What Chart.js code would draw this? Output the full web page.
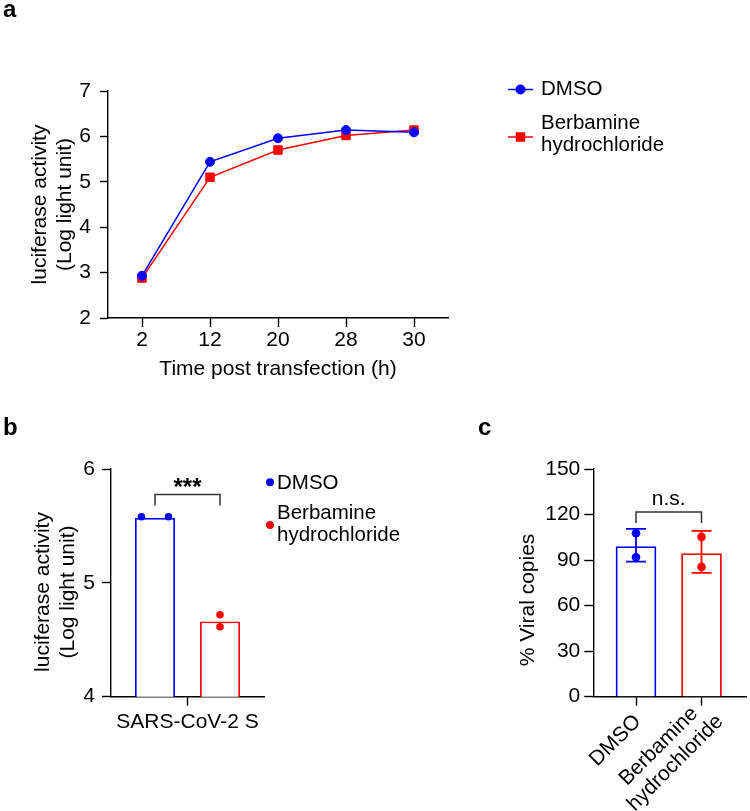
<!DOCTYPE html>
<html>
<head>
<meta charset="utf-8">
<script src="https://cdn.jsdelivr.net/npm/chart.js@4.4.0/dist/chart.umd.min.js"></script>
<style>
  body { margin: 0; background: #fff; width: 750px; height: 811px; position: relative; overflow: hidden; }
  canvas { position: absolute; }
</style>
</head>
<body>
<canvas id="panelA" width="750" height="415" style="left:0;top:0"></canvas>
<canvas id="panelB" width="420" height="396" style="left:0;top:415px"></canvas>
<canvas id="panelC" width="330" height="396" style="left:420px;top:415px"></canvas>
<script>
// --- data ---
const seriesNames = ['DMSO', ['Berbamine', 'hydrochloride']];
const lucTitle = ['luciferase activity', '(Log light unit)'];

// a: luciferase time course
const timeLabels = ['2', '12', '20', '28', '30'];
const dmsoTime = [2.93, 5.44, 5.96, 6.14, 6.09];
const berbTime = [2.88, 5.10, 5.70, 6.02, 6.14];

// b: pseudovirus entry
const lucCategory = ['SARS-CoV-2 S'];
const lucMean = [5.57, 4.66];
const lucReps = [[5.58, 5.58], [4.72, 4.615]];

// c: viral copies
const viralLabels = ['DMSO', ['Berbamine', 'hydrochloride']];
const viralMean = [98.9, 94.3];
const viralHi = [110.6, 109.3];
const viralLo = [89.0, 81.6];
const viralReps = [[107.7, 91.9], [105.3, 85.5]];

const BLUE = '#0000ff';
const RED = '#ff0000';
const FONT = "'Liberation Sans', Arial, Helvetica, sans-serif";

Chart.defaults.font.family = FONT;
Chart.defaults.color = '#000';

// axis line + outward tick marks only
function axisBase(tickLen) {
    return {
        border: { display: true, color: '#000', width: 1.4 },
        grid: { display: true, drawOnChartArea: false, drawTicks: true, tickLength: tickLen, color: '#000', tickColor: '#000', tickWidth: 1.4, offset: false }
    };
}

function tag(letter, x, y) {
    return {
        id: 'tag',
        afterDraw(chart) {
            const c = chart.ctx;
            c.save();
            c.font = 'bold 24px ' + FONT;
            c.fillStyle = '#000';
            c.textBaseline = 'alphabetic';
            c.fillText(letter, x, y);
            c.restore();
        }
    };
}

// rotated y title, lines stacked left to right
function yTitle(lines, x, yc, lh) {
    return {
        id: 'ytitle',
        afterDraw(chart) {
            const c = chart.ctx;
            c.save();
            c.font = '21px ' + FONT;
            c.fillStyle = '#000';
            c.textAlign = 'center';
            c.textBaseline = 'middle';
            c.translate(x, yc);
            c.rotate(-Math.PI / 2);
            [].concat(lines).forEach((t, k) => c.fillText(t, 0, k * lh));
            c.restore();
        }
    };
}

// 45deg category labels, lines centred on each other (GraphPad style)
function slantLabels(labels, o) {
    return {
        id: 'slant',
        afterDraw(chart) {
            const c = chart.ctx, xs = chart.scales.x;
            c.save();
            c.font = o.font;
            c.fillStyle = '#000';
            c.textAlign = 'center';
            c.textBaseline = 'middle';
            labels.forEach((lab, i) => {
                const lines = [].concat(lab);
                const h = lines.length * o.lh;
                const w = Math.max(...lines.map(t => c.measureText(t).width));
                c.save();
                c.translate(xs.getPixelForValue(i) + o.dx, xs.top + o.dy);
                c.rotate(-Math.PI / 4);
                lines.forEach((t, k) => c.fillText(t, h / 2 - w / 2, (k - (lines.length - 1) / 2) * o.lh));
                c.restore();
            });
            c.restore();
        }
    };
}

// individual replicate dots (and optional error bars) on top of bars
function replicates(groups, r) {
    return {
        id: 'reps',
        afterDatasetsDraw(chart) {
            const c = chart.ctx, ys = chart.scales.y;
            groups.forEach(g => {
                const bar = chart.getDatasetMeta(g.ds).data[g.idx];
                c.save();
                c.fillStyle = c.strokeStyle = g.color;
                c.lineWidth = 1.8;
                if (g.hi !== undefined) {
                    const yh = ys.getPixelForValue(g.hi), yl = ys.getPixelForValue(g.lo);
                    c.beginPath();
                    c.moveTo(bar.x, yh); c.lineTo(bar.x, yl);
                    c.moveTo(bar.x - 10, yh); c.lineTo(bar.x + 10, yh);
                    c.moveTo(bar.x - 10, yl); c.lineTo(bar.x + 10, yl);
                    c.stroke();
                }
                g.values.forEach((v, k) => {
                    c.beginPath();
                    c.arc(bar.x + (g.jitter ? g.jitter[k] : 0), ys.getPixelForValue(v), r, 0, Math.PI * 2);
                    c.fill();
                });
                c.restore();
            });
        }
    };
}

function bracket(a, b, top, bottom, text, font, gap) {
    return {
        id: 'bracket',
        afterDatasetsDraw(chart) {
            const c = chart.ctx, ys = chart.scales.y;
            const x1 = chart.getDatasetMeta(a[0]).data[a[1]].x;
            const x2 = chart.getDatasetMeta(b[0]).data[b[1]].x;
            const yt = ys.getPixelForValue(top), yb = ys.getPixelForValue(bottom);
            c.save();
            c.strokeStyle = '#333';
            c.lineWidth = 1.5;
            c.beginPath();
            c.moveTo(x1, yb); c.lineTo(x1, yt); c.lineTo(x2, yt); c.lineTo(x2, yb);
            c.stroke();
            c.fillStyle = '#000';
            c.font = font;
            c.textAlign = 'center';
            c.textBaseline = 'alphabetic';
            c.fillText(text, (x1 + x2) / 2, yt - gap);
            c.restore();
        }
    };
}

// legend drawn next to the plot
function key(o) {
    return {
        id: 'key',
        afterDraw(chart) {
            const c = chart.ctx;
            c.save();
            c.font = '20.5px ' + FONT;
            c.textBaseline = 'middle';
            chart.data.datasets.forEach((ds, i) => {
                const it = o.items[i];
                c.fillStyle = c.strokeStyle = ds.borderColor;
                if (o.line) {
                    c.lineWidth = 1.5;
                    c.beginPath();
                    c.moveTo(o.mx - 12.5, it.my); c.lineTo(o.mx + 12.5, it.my);
                    c.stroke();
                }
                c.beginPath();
                if (ds.pointStyle === 'rect') c.rect(o.mx - 4.75, it.my - 4.75, 9.5, 9.5);
                else c.arc(o.mx, it.my, o.r, 0, Math.PI * 2);
                c.fill();
                c.fillStyle = '#000';
                [].concat(seriesNames[i]).forEach((t, k) => c.fillText(t, o.tx, it.ty + k * o.lh));
            });
            c.restore();
        }
    };
}

// ---------------- a ----------------
new Chart(document.getElementById('panelA'), {
    type: 'line',
    data: {
        labels: timeLabels,
        datasets: [
            { label: 'DMSO', data: dmsoTime, borderColor: BLUE, backgroundColor: BLUE, borderWidth: 1.5,
              pointStyle: 'circle', pointRadius: 4.5, pointBorderWidth: 1, tension: 0 },
            { label: 'Berbamine hydrochloride', data: berbTime, borderColor: RED, backgroundColor: RED, borderWidth: 1.5,
              pointStyle: 'rect', pointRadius: 6, pointBorderWidth: 1, tension: 0 }
        ]
    },
    options: {
        responsive: false,
        animation: false,
        layout: { padding: { left: 0, right: 302, top: 91, bottom: 0 } },
        plugins: { legend: { display: false }, tooltip: { enabled: false } },
        scales: {
            x: {
                ...axisBase(9),
                offset: true,
                ticks: { font: { size: 21 }, padding: 1 },
                title: { display: true, text: 'Time post transfection (h)', font: { size: 21 }, padding: { top: 0, bottom: 33 } },
                afterFit: s => { s.height = 97; }
            },
            y: {
                ...axisBase(8),
                min: 2, max: 7,
                ticks: { stepSize: 1, font: { size: 21 }, padding: 9 },
                title: { display: true, text: lucTitle, font: { size: 21, lineHeight: 1.19 }, padding: { top: 27.5, bottom: 0 } },
                afterFit: s => { s.width = 108; }
            }
        }
    },
    plugins: [
        tag('a', 3, 17),
        key({ line: true, mx: 520.5, tx: 541, r: 5, lh: 22, items: [{ my: 89.5, ty: 89.7 }, { my: 137, ty: 123.7 }] })
    ]
});

// ---------------- b ----------------
new Chart(document.getElementById('panelB'), {
    type: 'bar',
    data: {
        labels: lucCategory,
        datasets: [
            { label: 'DMSO', data: [lucMean[0]], borderColor: BLUE, backgroundColor: '#fff', borderWidth: 1.8, borderSkipped: 'start' },
            { label: 'Berbamine hydrochloride', data: [lucMean[1]], borderColor: RED, backgroundColor: '#fff', borderWidth: 1.8, borderSkipped: 'start' }
        ]
    },
    options: {
        responsive: false,
        animation: false,
        categoryPercentage: 0.85,
        barPercentage: 0.615,
        layout: { padding: { left: 0, right: 156, top: 54, bottom: 0 } },
        plugins: { legend: { display: false }, tooltip: { enabled: false } },
        scales: {
            x: {
                ...axisBase(9),
                offset: true,
                ticks: { font: { size: 21 }, padding: 4 },
                afterFit: s => { s.height = 114.3; }
            },
            y: {
                ...axisBase(9),
                min: 4, max: 6,
                ticks: { stepSize: 1, font: { size: 21 }, padding: 7 },
                afterFit: s => { s.width = 111; }
            }
        }
    },
    plugins: [
        tag('b', 3, 20),
        yTitle(lucTitle, 43, 177, 25),
        replicates([
            { ds: 0, idx: 0, values: lucReps[0], color: BLUE, jitter: [-13.5, 13.5] },
            { ds: 1, idx: 0, values: lucReps[1], color: RED }
        ], 3.8),
        bracket([0, 0], [1, 0], 5.775, 5.68, '***', 'bold 24px ' + FONT, 0),
        key({ line: false, mx: 270, tx: 277, r: 4, lh: 21.7, items: [{ my: 67.3, ty: 68.3 }, { my: 110, ty: 98.7 }] })
    ]
});

// ---------------- c ----------------
new Chart(document.getElementById('panelC'), {
    type: 'bar',
    data: {
        datasets: [
            { label: '% Viral copies', data: viralMean.map((v, i) => ({ x: i, y: v })),
              borderColor: [BLUE, RED], backgroundColor: '#fff', borderWidth: 1.8, borderSkipped: 'start', barThickness: 40 }
        ]
    },
    options: {
        responsive: false,
        animation: false,
        layout: { padding: { left: 0, right: 3.3, top: 54, bottom: 0 } },
        plugins: { legend: { display: false }, tooltip: { enabled: false } },
        scales: {
            x: {
                ...axisBase(9),
                type: 'linear',
                offset: false,
                min: -0.652, max: 1.69,
                afterBuildTicks: s => { s.ticks = viralLabels.map((_, i) => ({ value: i })); },
                ticks: { display: false },
                afterFit: s => { s.height = 114.3; }
            },
            y: {
                ...axisBase(9),
                min: 0, max: 150,
                ticks: { stepSize: 30, font: { size: 21 }, padding: 4 },
                afterFit: s => { s.width = 173.3; }
            }
        }
    },
    plugins: [
        tag('c', 58, 20),
        yTitle('% Viral copies', 108, 185, 25),
        slantLabels(viralLabels, { font: '21px ' + FONT, lh: 23.5, dx: -6.5, dy: 30 }),
        replicates([
            { ds: 0, idx: 0, values: viralReps[0], color: BLUE, hi: viralHi[0], lo: viralLo[0] },
            { ds: 0, idx: 1, values: viralReps[1], color: RED, hi: viralHi[1], lo: viralLo[1] }
        ], 4.3),
        bracket([0, 0], [0, 1], 121.6, 114.4, 'n.s.', '21px ' + FONT, 7.3)
    ]
});
</script>
</body>
</html>
